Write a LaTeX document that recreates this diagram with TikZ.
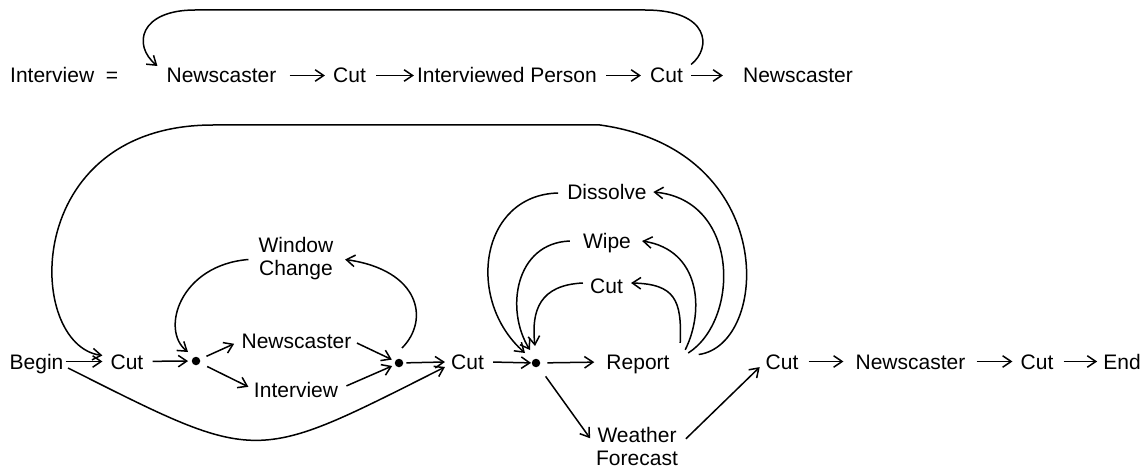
\documentclass[tikz,border=0pt]{standalone}
\usepackage{fontspec}
\setmainfont{Liberation Sans}
\usetikzlibrary{arrows.meta,calc}
\begin{document}
\begin{tikzpicture}[x=1pt,y=-1pt,
  lbl/.style={font=\fontsize{21}{23}\selectfont, inner sep=0pt, text height=15pt, text depth=0pt, anchor=base},
  lbltwo/.style={font=\fontsize{21}{23}\selectfont, inner sep=0pt, align=center, anchor=north},
  dotnode/.style={circle, fill=black, inner sep=0pt, minimum size=8.5pt},
  ar/.style={line width=1.5pt, -{Straight Barb[length=8.5pt,width=11.5pt]}},
]
\useasboundingbox (0,0) rectangle (1146,468);

% ---- top row ----
\node[lbl, anchor=base west] (eq) at (10,83) {Interview\ \ =};
\node[lbl] (N1) at (221.5,83) {Newscaster};
\node[lbl] (C1) at (349.5,83) {Cut};
\node[lbl] (IP) at (507,83) {Interviewed Person};
\node[lbl] (C2) at (666.5,83) {Cut};
\node[lbl] (N2) at (798,83) {Newscaster};

\draw[ar, shorten <=13pt, shorten >=8pt] (N1) -- (C1);
\draw[ar, shorten <=10pt, shorten >=3pt] (C1) -- (IP);
\draw[ar, shorten <=9pt, shorten >=9pt] (IP) -- (C2);
\draw[ar, shorten <=8pt, shorten >=20pt] (C2) -- (N2);
\draw[ar] ([shift={(8,-11)}]C2.east) .. controls (712,48) and (710,10) .. (645,10)
  -- (195,10) .. controls (140,10) and (132,45) .. ([shift={(-9,-9.5)}]N1.west);

% ---- bottom graph ----
\node[lbl] (Begin) at (36.5,369) {Begin};
\node[lbl] (Cut1) at (127,369) {Cut};
\node[dotnode] (d1) at (196,361) {};
\node[lbl] (NewsM) at (296.5,348) {Newscaster};
\node[lbl] (IntM) at (296,397) {Interview};
\node[dotnode] (d2) at (399,363) {};
\node[lbl] (Cut2) at (467.5,369) {Cut};
\node[dotnode] (d3) at (536,363) {};
\node[lbl] (Report) at (638,369) {Report};
\node[lbltwo] (WF) at (637,427) {Weather\\Forecast};
\node[lbltwo] (WC) at (296,237) {Window\\Change};
\node[lbl] (Dis) at (607,200) {Dissolve};
\node[lbl] (Wipe) at (607,248) {Wipe};
\node[lbl] (CutL) at (606.5,293) {Cut};
\node[lbl] (Cut3) at (782,369) {Cut};
\node[lbl] (N3) at (910.5,369) {Newscaster};
\node[lbl] (Cut4) at (1037,369) {Cut};
\node[lbl] (End) at (1122,369) {End};

\draw[ar, shorten <=2pt, shorten >=8pt] (Begin) -- (Cut1);
\draw[ar, shorten <=9pt, shorten >=3.5pt] (Cut1) -- (d1);
\draw[ar, shorten <=7pt, shorten >=8pt] (d1) -- (NewsM.west);
\draw[ar, shorten <=8pt, shorten >=6pt] (d1) -- (IntM.west);
\draw[ar, shorten <=6pt, shorten >=3.5pt] (NewsM.east) -- (d2);
\draw[ar, shorten <=9pt, shorten >=3pt] (IntM.east) -- (d2);
\draw[ar, shorten <=3pt, shorten >=6pt] (d2) -- (Cut2);
\draw[ar, shorten <=9pt, shorten >=0.5pt] (Cut2) -- (d3);
\draw[ar, shorten <=7pt, shorten >=12pt] (d3) -- (Report);
\draw[ar, shorten <=12pt, shorten >=10pt] (d3) -- (WF.west);
\draw[ar, shorten <=11pt, shorten >=8pt] (WF.east) -- (Cut3.west);
\draw[ar, shorten <=10pt, shorten >=12pt] (Cut3) -- (N3);
\draw[ar, shorten <=11pt, shorten >=8pt] (N3) -- (Cut4);
\draw[ar, shorten <=10pt, shorten >=6pt] (Cut4) -- (End);

% Window Change loop
\draw[ar] ([shift={(-10,1)}]WC.west) .. controls (180,265) and (160,330) .. ([shift={(-8,-9)}]d1.center);
\draw[ar] ([shift={(3,-15)}]d2.center) .. controls (430,320) and (420,270) .. ([shift={(11.5,1)}]WC.east);

% big loop Report -> Cut1
\draw[ar] ([shift={(29,-7)}]Report.east) .. controls (770,345) and (780,150) .. (600,125)
  -- (213,125) .. controls (20,125) and (25,345) .. ([shift={(-8,-6)}]Cut1.west);

% bottom loop Begin -> Cut2
\draw[ar] ([shift={(4.5,6.5)}]Begin.east) .. controls (261,465) and (252,464) .. ([shift={(-6,5.5)}]Cut2.west);

% Report loops
\draw[ar] ([shift={(10.5,-11)}]Report.north east) .. controls (682,300) and (675,284) .. ([shift={(8,-2.5)}]CutL.east);
\draw[ar] ([shift={(-7,-2.5)}]CutL.west) .. controls (540,285) and (531,310) .. ([shift={(-1,-17)}]d3.center);
\draw[ar] ([shift={(15.5,-4)}]Report.north east) .. controls (705,310) and (700,250) .. ([shift={(11,0.5)}]Wipe.east);
\draw[ar] ([shift={(-13,0.5)}]Wipe.west) .. controls (515,243) and (505,310) .. ([shift={(-6,-13)}]d3.center);
\draw[ar] ([shift={(18.5,-8.5)}]Report.east) .. controls (740,320) and (740,200) .. ([shift={(6.5,-0.5)}]Dis.east);
\draw[ar] ([shift={(-9,0.5)}]Dis.west) .. controls (480,195) and (465,300) .. ([shift={(-11,-10)}]d3.center);
\end{tikzpicture}
\end{document}
